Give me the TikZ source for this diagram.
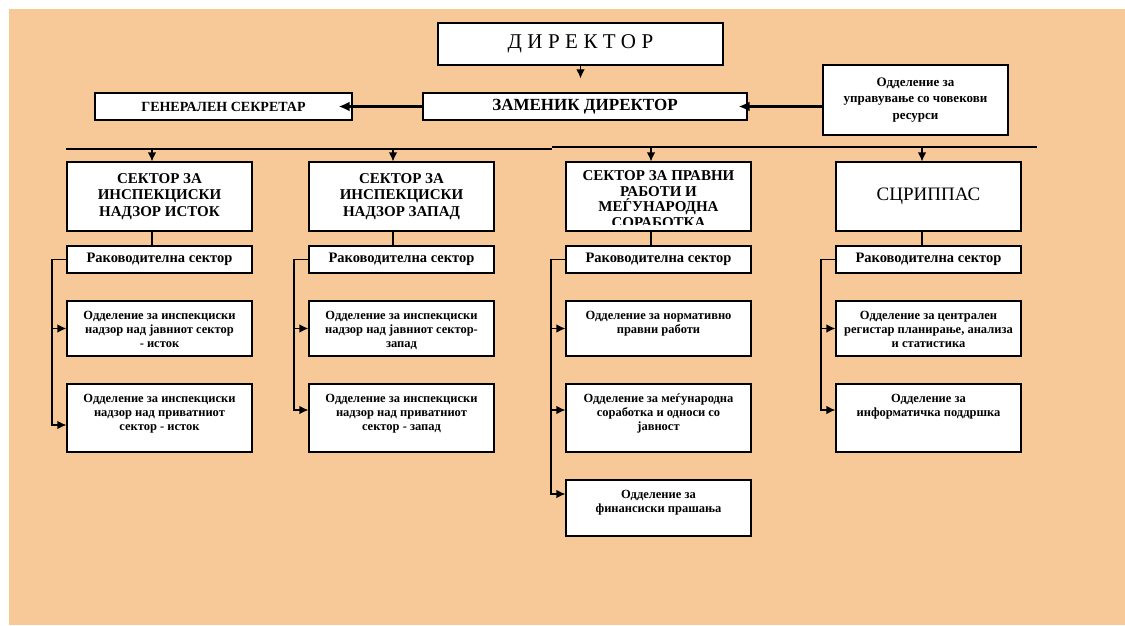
\documentclass[tikz,border=0pt]{standalone}
\usepackage{fontspec}
\setmainfont{Liberation Serif}
\usetikzlibrary{arrows.meta,positioning}
\definecolor{peach}{RGB}{248,201,152}
% top aligned text in a department box
\newcommand{\deptxt}[2]{\parbox[c][#1][t]{181pt}{\centering\rule{0pt}{12.5pt}#2}}

\begin{document}
\begin{tikzpicture}[x=1pt,y=-1pt,>={Latex[length=9pt,width=8.5pt]}]
  \tikzstyle{box}=[draw=black,line width=1.2pt,fill=white,inner sep=0pt,align=center]
  \tikzstyle{secbox}=[box,minimum width=185pt,minimum height=69pt,font=\fontsize{15}{16.5}\selectfont\bfseries]
  \tikzstyle{lead}=[box,minimum width=185pt,minimum height=27pt,font=\fontsize{14.5}{15}\selectfont\bfseries]
  \tikzstyle{dept}=[box,inner ysep=6pt,inner xsep=2pt,font=\fontsize{12.5}{14}\selectfont\bfseries]
  \tikzstyle{wire}=[line width=1.2pt]
  \tikzstyle{arr}=[wire,->]
  \tikzstyle{bigarr}=[line width=2.2pt,-{Latex[length=11pt,width=10pt]}]

  \useasboundingbox (0,0) rectangle (1125,626);
  \fill[white] (0,0) rectangle (1125,626);
  \fill[peach] (9,9) rectangle (1125,625);

  % top
  \node[box,minimum width=285pt,minimum height=42pt,font=\fontsize{21}{24}\selectfont\addfontfeature{LetterSpace=26}] (dir) at (580.5,44) {ДИРЕКТОР};
  \node[box,minimum width=324pt,minimum height=27pt,font=\fontsize{17}{19}\selectfont\bfseries] (zam) at (585,106.5) {ЗАМЕНИК ДИРЕКТОР};
  \node[box,minimum width=257pt,minimum height=27pt,font=\fontsize{14}{16}\selectfont\bfseries] (gen) at (223.5,106.5) {ГЕНЕРАЛЕН СЕКРЕТАР};
  \node[box,minimum width=185pt,minimum height=70pt,font=\fontsize{13}{16.5}\selectfont\bfseries] (hr) at (915.5,100) {Одделение за\\управување со човекови\\ресурси};

  \draw[arr,shorten >=14pt] (dir.south) -- (dir.south |- zam.north);
  \draw[bigarr,shorten >=-14pt] (zam.west) -- (gen.east);
  \draw[bigarr,shorten >=-9pt] (hr.west |- zam.east) -- (zam.east);

  % sectors
  \node[secbox] (sec1) at (159.5,196.5) {СЕКТОР ЗА\\ИНСПЕКЦИСКИ\\НАДЗОР ИСТОК};
  \node[secbox] (sec2) at (401.5,196.5) {СЕКТОР ЗА\\ИНСПЕКЦИСКИ\\НАДЗОР ЗАПАД};
  \node[secbox,path picture={
      \clip (path picture bounding box.north west) rectangle ([yshift=7pt]path picture bounding box.south east);
      \node[align=center,font=\fontsize{15}{15.5}\selectfont\bfseries] (sec3txt)
      at ([yshift=-2.4pt]path picture bounding box.center) {СЕКТОР ЗА ПРАВНИ\\РАБОТИ И\\МЕЃУНАРОДНА\\СОРАБОТКА};}] (sec3) at (658.5,196.5) {};
  \node[secbox,font=\fontsize{19}{21}\selectfont] (sec4) at (928.5,196.5) {СЦРИППАС};

  % bus
  \coordinate (busW) at (66,149);
  \coordinate (busM) at (552,148);
  \coordinate (busE) at (1037,147);
  \draw[wire] (busW) -- (busW -| busM);
  \draw[wire] (busE -| busM) -- (busE);

  \foreach \i/\cx/\dx in {1/159.5/152, 2/401.5/393, 3/658.5/651, 4/928.5/922} {
    \node[lead] (lead\i) at (\cx,259.5) {Раководителна сектор};
    \coordinate (drop\i) at (\dx,148);
    \draw[arr] (drop\i) -- (drop\i |- sec\i.north);
    \draw[wire] (drop\i |- sec\i.south) -- (drop\i |- lead\i.north);
  }

  % departments
  \node[dept] (b1) at (159.5,328.5) {\deptxt{43pt}{Одделение за инспекциски\\надзор над јавниот сектор\\- исток}};
  \node[dept] (c1) at (159.5,418) {\deptxt{56pt}{Одделение за инспекциски\\надзор над приватниот\\сектор - исток}};
  \node[dept] (b2) at (401.5,328.5) {\deptxt{43pt}{Одделение за инспекциски\\надзор над јавниот сектор-\\запад}};
  \node[dept] (c2) at (401.5,418) {\deptxt{56pt}{Одделение за инспекциски\\надзор над приватниот\\сектор - запад}};
  \node[dept] (b3) at (658.5,328.5) {\deptxt{43pt}{Одделение за нормативно\\правни работи}};
  \node[dept] (c3) at (658.5,418) {\deptxt{56pt}{Одделение за меѓународна\\соработка и односи со\\јавност}};
  \node[dept] (d3) at (658.5,508) {\deptxt{44pt}{Одделение за\\финансиски прашања}};
  \node[dept] (b4) at (928.5,328.5) {\deptxt{43pt}{Одделение за централен\\регистар планирање, анализа\\и статистика}};
  \node[dept] (c4) at (928.5,418) {\deptxt{56pt}{Одделение за\\информатичка поддршка}};

  \foreach \i/\cy in {1/-7, 2/8, 3/8, 4/8} {
    \coordinate (br\i) at ([xshift=-14.5pt]lead\i.west);
    \draw[arr] (lead\i.west) -- (br\i) |- ([yshift=\cy pt]c\i.west);
    \draw[arr] (br\i |- b\i.west) -- (b\i.west);
  }
  \draw[arr] (br3) |- ([yshift=14pt]d3.west);
\end{tikzpicture}
\end{document}
